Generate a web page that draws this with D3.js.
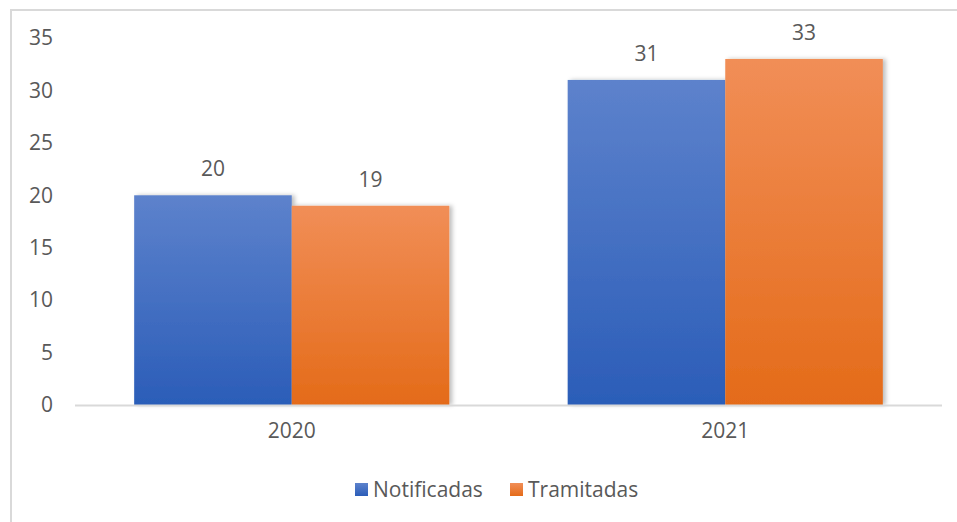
<!DOCTYPE html>
<html>
<head>
<meta charset="utf-8">
<script src="https://cdn.jsdelivr.net/npm/d3@7"></script>
<style>
  body { margin: 0; background: #fff; }
  svg text { font-family: "Open Sans", "Noto Sans", sans-serif; fill: #595959; }
</style>
</head>
<body>
<svg id="chart" width="957" height="522"></svg>
<script>
const years = ['2020', '2021'];
const seriesNames = ['Notificadas', 'Tramitadas'];
const notificadas = [20, 31];
const tramitadas = [19, 33];
const yTicks = [0, 5, 10, 15, 20, 25, 30, 35];

const W = 957, H = 522;
const margin = { left: 75, right: 15, top: 38, bottom: 117 };
const FS = 21;
const svg = d3.select('#chart');

// outer chart border (runs off right/bottom like the screenshot)
svg.append('rect')
  .attr('x', 11).attr('y', 10)
  .attr('width', W).attr('height', H)
  .attr('fill', 'none').attr('stroke', '#d9d9d9').attr('stroke-width', 2);

const defs = svg.append('defs');
const grads = [['#5d82cc', '#2b5db8'], ['#f18e57', '#e46b19']];
grads.forEach((c, i) => {
  const g = defs.append('linearGradient').attr('id', 'g' + i)
    .attr('x1', 0).attr('y1', 0).attr('x2', 0).attr('y2', 1);
  g.append('stop').attr('offset', '0%').attr('stop-color', c[0]);
  g.append('stop').attr('offset', '100%').attr('stop-color', c[1]);
});
const shadow = defs.append('filter').attr('id', 'sh')
  .attr('x', '-10%').attr('y', '-10%').attr('width', '130%').attr('height', '120%');
shadow.append('feDropShadow').attr('dx', 3).attr('dy', 0).attr('stdDeviation', 2)
  .attr('flood-color', '#000').attr('flood-opacity', 0.25);

const x0 = d3.scaleBand().domain(years)
  .range([margin.left, W - margin.right]).paddingInner(0.273).paddingOuter(0.1365);
const x1 = d3.scaleBand().domain(seriesNames).range([0, x0.bandwidth()]);
const y = d3.scaleLinear().domain([0, 35]).range([H - margin.bottom, margin.top]);

// y labels
svg.append('g').selectAll('text').data(yTicks).enter().append('text')
  .attr('x', 53).attr('y', d => y(d)).attr('dy', '0.35em')
  .attr('text-anchor', 'end').attr('font-size', FS).text(d => d);

const data = years.map((yr, i) => ({ yr, vals: [notificadas[i], tramitadas[i]] }));

const grp = svg.append('g').selectAll('g').data(data).enter().append('g')
  .attr('transform', d => `translate(${x0(d.yr)},0)`);

grp.selectAll('rect').data(d => d.vals.map((v, k) => ({ v, k }))).enter().append('rect')
  .attr('x', d => x1(seriesNames[d.k]))
  .attr('y', d => y(d.v))
  .attr('width', x1.bandwidth())
  .attr('height', d => y(0) - y(d.v))
  .attr('fill', d => `url(#g${d.k})`)
  .attr('filter', 'url(#sh)');

grp.selectAll('text.val').data(d => d.vals.map((v, k) => ({ v, k }))).enter().append('text')
  .attr('class', 'val')
  .attr('x', d => x1(seriesNames[d.k]) + x1.bandwidth() / 2)
  .attr('y', d => y(d.v) - 19)
  .attr('text-anchor', 'middle').attr('font-size', FS).text(d => d.v);

// baseline
svg.append('line')
  .attr('x1', margin.left).attr('x2', W - margin.right)
  .attr('y1', y(0) + 0.5).attr('y2', y(0) + 0.5)
  .attr('stroke', '#d9d9d9').attr('stroke-width', 2);

// x labels
svg.append('g').selectAll('text').data(years).enter().append('text')
  .attr('x', d => x0(d) + x0.bandwidth() / 2).attr('y', 438)
  .attr('text-anchor', 'middle').attr('font-size', FS).text(d => d);

// legend
const legX = [355, 510];
const leg = svg.append('g').selectAll('g').data(seriesNames).enter().append('g')
  .attr('transform', (d, i) => `translate(${legX[i]},483)`);
leg.append('rect').attr('width', 13).attr('height', 13)
  .attr('fill', (d, i) => `url(#g${i})`);
leg.append('text').attr('x', 18).attr('y', 7).attr('dy', '0.35em')
  .attr('font-size', FS).text(d => d);
</script>
</body>
</html>
